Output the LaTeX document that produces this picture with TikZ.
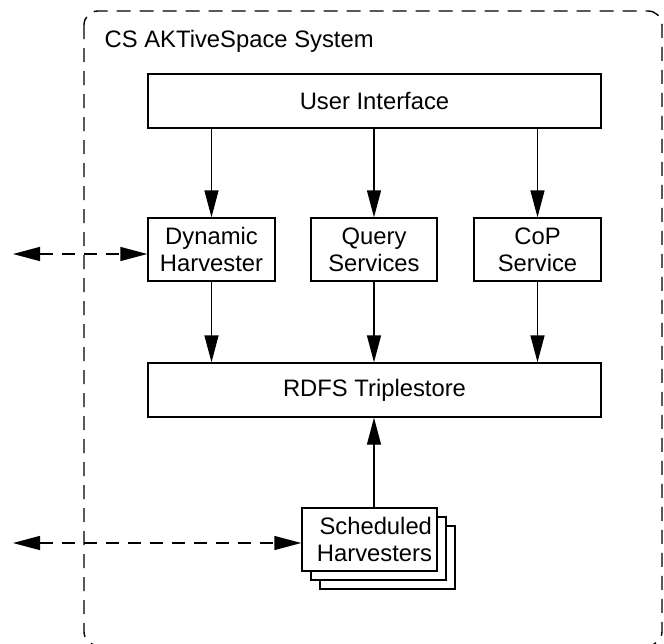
\documentclass[tikz,border=0pt]{standalone}
\usepackage{fontspec}
\setmainfont{Liberation Sans}
\usetikzlibrary{arrows.meta}
\begin{document}
\begin{tikzpicture}[x=1pt,y=-1pt, line width=1.4pt,
  lbl/.style={font=\fontsize{23.8}{27}\selectfont},
  box/.style={lbl, draw, fill=white, inner sep=0pt, align=center},
  arr/.style={-{Triangle[length=27pt,width=14pt]}},
  darr/.style={{Triangle[length=27pt,width=14pt]}-{Triangle[length=27pt,width=14pt]}, dash pattern=on 13pt off 9pt},
  border/.style={draw, dash pattern=on 14pt off 9pt, rounded corners=14pt}
]
\useasboundingbox (0,0) rectangle (664,643);
% system border
\begin{scope}
\clip (0,0) rectangle (664,643);
\draw[border] (84,11) rectangle (662,645.5);
\end{scope}
\node[lbl, anchor=base west, inner sep=0pt] (title) at (104,47) {CS AKTiveSpace System};
% boxes
\node[box, minimum width=453pt, minimum height=54pt] (ui) at (374.5,101) {User Interface};
\node[box, minimum width=127pt, minimum height=63pt] (dh) at (211.5,249.5) {Dynamic\\Harvester};
\node[box, minimum width=126pt, minimum height=63pt] (qs) at (374,249.5) {Query\\Services};
\node[box, minimum width=127pt, minimum height=63pt] (cop) at (537.5,249.5) {CoP\\Service};
\node[box, minimum width=453pt, minimum height=54pt] (rdfs) at (374.5,390) {RDFS Triplestore};
\node[box, minimum width=135pt, minimum height=63pt] (sh3) at (387.5,557.5) {};
\node[box, minimum width=135pt, minimum height=63pt] (sh2) at (378.5,548.5) {};
\node[box, minimum height=63pt, inner xsep=5pt, text width=125pt, align=right] (sh1) at (369.5,539.5) {Scheduled\\Harvesters};
% external endpoints
\coordinate (ext1) at (13,254);
\coordinate (ext2) at (13,543);
% arrows
\draw[arr] (ui.south -| dh) -- (dh.north);
\draw[arr] (ui.south -| qs) -- (qs.north);
\draw[arr] (ui.south -| cop) -- (cop.north);
\draw[arr] (dh.south) -- (dh.south |- rdfs.north);
\draw[arr] (qs.south) -- (qs.south |- rdfs.north);
\draw[arr] (cop.south) -- (cop.south |- rdfs.north);
\draw[arr] (sh1.north -| qs) -- (rdfs.south -| qs);
\draw[darr] (ext1) -- (dh.west |- ext1);
\draw[darr] (ext2) -- (sh1.west |- ext2);
\end{tikzpicture}
\end{document}
